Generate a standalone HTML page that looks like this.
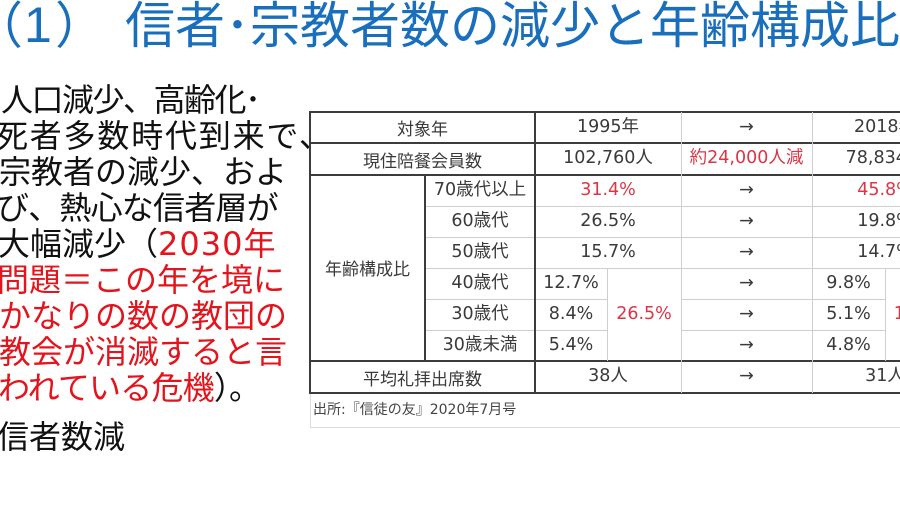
<!DOCTYPE html>
<html><head><meta charset="utf-8">
<style>
html,body{margin:0;padding:0;}
body{width:900px;height:515px;overflow:hidden;background:#fff;}
#w{position:relative;width:900px;height:515px;overflow:hidden;background:#fff;}
.a{position:absolute;}
.ttl{position:absolute;font-family:"Noto Sans CJK JP",sans-serif;font-size:50px;line-height:50px;color:#1a6fbd;white-space:nowrap;}
#lt{position:absolute;left:0;top:80px;font-family:"Noto Sans CJK JP",sans-serif;font-size:32px;line-height:36px;color:#111;white-space:nowrap;}
#lt .l{height:36px;margin-left:-2px;}
.r{color:#e3141c;}
.d{font-family:"DejaVu Sans",sans-serif;letter-spacing:1px;}
.c{position:absolute;display:flex;align-items:center;justify-content:center;white-space:nowrap;font-family:"DejaVu Sans","Noto Sans CJK JP",sans-serif;font-size:17.5px;line-height:1;color:#3a3a3a;}
.c.cj{font-family:"Noto Sans CJK JP",sans-serif;font-size:17px;}
.c .rd,.rd{color:#dc3545;}
.hd{position:absolute;height:2px;background:#3c3c3c;}
.vd{position:absolute;width:2px;background:#3c3c3c;}
.hl{position:absolute;height:1px;background:#cfcfcf;}
.vl{position:absolute;width:1px;background:#cfcfcf;}
</style></head><body>
<div id="w">

<!-- Title -->
<div class="ttl" style="left:-27px;top:-3px;">（</div>
<div class="a" style="left:24px;top:0px;font-family:'Liberation Sans',sans-serif;font-size:50px;line-height:50px;color:#1a6fbd;">1</div>
<div class="ttl" style="left:55px;top:-3px;">）</div>
<div class="ttl" style="left:125px;top:-3px;">信者･宗教者数の減少と年齢構成比</div>

<!-- Left text -->
<div id="lt">
  <div class="l" style="margin-left:1px;letter-spacing:-1.5px;">人口減少、高齢化･</div>
  <div class="l" style="margin-left:-4px;letter-spacing:1.8px;">死者多数時代到来で、</div>
  <div class="l" style="margin-left:-1px;">宗教者の減少、およ</div>
  <div class="l" style="margin-left:-3px;letter-spacing:-0.8px;">び、熱心な信者層が</div>
  <div class="l">大幅減少（<span class="r"><span class="d">2030</span>年</span></div>
  <div class="l" style="margin-left:-3px;"><span class="r">問題＝この年を境に</span></div>
  <div class="l" style="margin-left:-1px;"><span class="r">かなりの数の教団の</span></div>
  <div class="l" style="margin-left:-1px;"><span class="r">教会が消滅すると言</span></div>
  <div class="l" style="margin-left:-2px;letter-spacing:-0.8px;"><span class="r">われている危機</span>）。</div>
  <div class="l" style="margin-top:13px;margin-left:-3px;">信者数減</div>
</div>

<!-- Table lines: dark horizontal -->
<div class="hd" style="left:309px;top:111px;width:591px;"></div>
<div class="hd" style="left:309px;top:142px;width:591px;"></div>
<div class="hd" style="left:309px;top:174px;width:591px;"></div>
<div class="hd" style="left:309px;top:360px;width:591px;"></div>
<div class="hd" style="left:309px;top:392px;width:591px;"></div>
<!-- light horizontal -->
<div class="hl" style="left:425px;top:206px;width:475px;"></div>
<div class="hl" style="left:425px;top:237px;width:475px;"></div>
<div class="hl" style="left:425px;top:268px;width:475px;"></div>
<div class="hl" style="left:425px;top:299px;width:182px;"></div>
<div class="hl" style="left:681px;top:299px;width:204px;"></div>
<div class="hl" style="left:425px;top:330px;width:182px;"></div>
<div class="hl" style="left:681px;top:330px;width:204px;"></div>
<!-- dark vertical -->
<div class="vd" style="left:309px;top:111px;height:283px;"></div>
<div class="vd" style="left:424px;top:175px;height:186px;"></div>
<div class="vd" style="left:534px;top:111px;height:283px;"></div>
<!-- light vertical -->
<div class="vl" style="left:607px;top:268px;height:93px;"></div>
<div class="vl" style="left:681px;top:112px;height:281px;"></div>
<div class="vl" style="left:812px;top:112px;height:281px;"></div>
<div class="vl" style="left:885px;top:268px;height:93px;"></div>
<!-- source box -->
<div class="a" style="left:310px;top:394px;width:1px;height:34px;background:#dcdcdc;"></div>
<div class="a" style="left:310px;top:427px;width:590px;height:1px;background:#dcdcdc;"></div>

<!-- Row A -->
<div class="c cj" style="left:310px;top:112px;width:225px;height:31px;">対象年</div>
<div class="c" style="left:535px;top:112px;width:146px;height:31px;">1995年</div>
<div class="c" style="left:681px;top:112px;width:131px;height:31px;">→</div>
<div class="c" style="left:812px;top:112px;width:146px;height:31px;">2018年</div>
<!-- Row B -->
<div class="c cj" style="left:310px;top:143px;width:225px;height:32px;">現住陪餐会員数</div>
<div class="c" style="left:535px;top:143px;width:146px;height:32px;">102,760人</div>
<div class="c rd" style="left:681px;top:143px;width:131px;height:32px;">約24,000人減</div>
<div class="c" style="left:812px;top:143px;width:146px;height:32px;">78,834人</div>
<!-- 年齢構成比 -->
<div class="c cj" style="left:310px;top:175px;width:115px;height:184px;">年齢構成比</div>
<!-- Row C -->
<div class="c" style="left:425px;top:175px;width:110px;height:31px;">70歳代以上</div>
<div class="c rd" style="left:535px;top:175px;width:146px;height:31px;">31.4%</div>
<div class="c" style="left:681px;top:175px;width:131px;height:31px;">→</div>
<div class="c rd" style="left:812px;top:175px;width:146px;height:31px;">45.8%</div>
<!-- Row D -->
<div class="c" style="left:425px;top:206px;width:110px;height:31px;">60歳代</div>
<div class="c" style="left:535px;top:206px;width:146px;height:31px;">26.5%</div>
<div class="c" style="left:681px;top:206px;width:131px;height:31px;">→</div>
<div class="c" style="left:812px;top:206px;width:146px;height:31px;">19.8%</div>
<!-- Row E -->
<div class="c" style="left:425px;top:237px;width:110px;height:31px;">50歳代</div>
<div class="c" style="left:535px;top:237px;width:146px;height:31px;">15.7%</div>
<div class="c" style="left:681px;top:237px;width:131px;height:31px;">→</div>
<div class="c" style="left:812px;top:237px;width:146px;height:31px;">14.7%</div>
<!-- Row F -->
<div class="c" style="left:425px;top:268px;width:110px;height:31px;">40歳代</div>
<div class="c" style="left:535px;top:268px;width:72px;height:31px;">12.7%</div>
<div class="c" style="left:681px;top:268px;width:131px;height:31px;">→</div>
<div class="c" style="left:812px;top:268px;width:73px;height:31px;">9.8%</div>
<!-- Row G -->
<div class="c" style="left:425px;top:299px;width:110px;height:31px;">30歳代</div>
<div class="c" style="left:535px;top:299px;width:72px;height:31px;">8.4%</div>
<div class="c" style="left:681px;top:299px;width:131px;height:31px;">→</div>
<div class="c" style="left:812px;top:299px;width:73px;height:31px;">5.1%</div>
<!-- Row H -->
<div class="c" style="left:425px;top:330px;width:110px;height:31px;">30歳未満</div>
<div class="c" style="left:535px;top:330px;width:72px;height:31px;">5.4%</div>
<div class="c" style="left:681px;top:330px;width:131px;height:31px;">→</div>
<div class="c" style="left:812px;top:330px;width:73px;height:31px;">4.8%</div>
<!-- combined -->
<div class="c rd" style="left:607px;top:268px;width:74px;height:93px;">26.5%</div>
<div class="c rd" style="left:885px;top:268px;width:73px;height:93px;">19.7%</div>
<!-- Row I -->
<div class="c cj" style="left:310px;top:361px;width:225px;height:32px;">平均礼拝出席数</div>
<div class="c" style="left:535px;top:361px;width:146px;height:32px;">38人</div>
<div class="c" style="left:681px;top:361px;width:131px;height:32px;">→</div>
<div class="c" style="left:812px;top:361px;width:146px;height:32px;">31人</div>

<!-- Source -->
<div class="a" style="left:313px;top:401px;font-family:'DejaVu Sans','Noto Sans CJK JP',sans-serif;font-size:14px;line-height:18px;color:#444;white-space:nowrap;">出所:『信徒の友』2020年7月号</div>

</div>
</body></html>
